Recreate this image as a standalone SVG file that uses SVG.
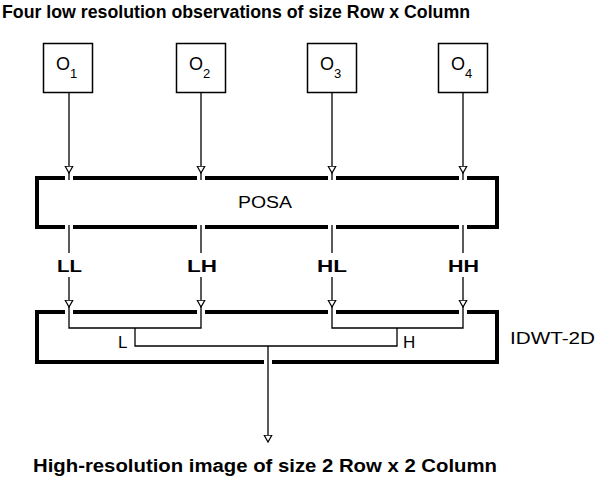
<svg xmlns="http://www.w3.org/2000/svg" width="598" height="478" viewBox="0 0 598 478">
<style>
.t{font-family:"Liberation Sans",Arial,sans-serif;fill:#000}
.b{font-weight:bold}
.box{fill:#fff;stroke:#000;stroke-width:1.5}
.big{fill:none;stroke:#000;stroke-width:4}
.ln{fill:none;stroke:#000;stroke-width:1.3}
.gap{fill:#fff;stroke:none}
</style>
<defs>
<marker id="ah" markerWidth="9" markerHeight="10" refX="7.5" refY="4.5" orient="auto" markerUnits="userSpaceOnUse" viewBox="0 0 9 9">
<path d="M0.6,0.6 L7.5,4.5 L0.6,8.4 Z" fill="#fff" stroke="#000" stroke-width="1.2"/>
</marker>
</defs>
<rect width="598" height="478" fill="#fff"/>
<text class="t b" x="2" y="18" font-size="19" textLength="468" lengthAdjust="spacingAndGlyphs">Four low resolution observations of size Row x Column</text>

<g id="o1"><rect class="box" x="43.5" y="43.5" width="49" height="49"/><text class="t" x="56" y="70" font-size="18">O<tspan font-size="13" dy="8">1</tspan></text></g>
<g id="o2"><rect class="box" x="176.5" y="43.5" width="49" height="49"/><text class="t" x="189" y="70" font-size="18">O<tspan font-size="13" dy="8">2</tspan></text></g>
<g id="o3"><rect class="box" x="307.5" y="43.5" width="49" height="49"/><text class="t" x="320" y="70" font-size="18">O<tspan font-size="13" dy="8">3</tspan></text></g>
<g id="o4"><rect class="box" x="438.5" y="43.5" width="49" height="49"/><text class="t" x="451" y="70" font-size="18">O<tspan font-size="13" dy="8">4</tspan></text></g>

<g id="posa"><rect class="big" x="37" y="178" width="460" height="49"/><text class="t" x="238" y="208" font-size="16" textLength="54" lengthAdjust="spacingAndGlyphs">POSA</text></g>
<g id="idwt"><rect class="big" x="37" y="312" width="460" height="50"/><text class="t" x="510" y="344" font-size="16" textLength="85" lengthAdjust="spacingAndGlyphs">IDWT-2D</text></g>

<g id="gaps">
<rect class="gap" x="65" y="174" width="8" height="8"/>
<rect class="gap" x="197" y="174" width="8" height="8"/>
<rect class="gap" x="328" y="174" width="8" height="8"/>
<rect class="gap" x="459" y="174" width="8" height="8"/>
<rect class="gap" x="65" y="223" width="8" height="8"/>
<rect class="gap" x="197" y="223" width="8" height="8"/>
<rect class="gap" x="328" y="223" width="8" height="8"/>
<rect class="gap" x="459" y="223" width="8" height="8"/>
<rect class="gap" x="65" y="308" width="8" height="8"/>
<rect class="gap" x="197" y="308" width="8" height="8"/>
<rect class="gap" x="328" y="308" width="8" height="8"/>
<rect class="gap" x="459" y="308" width="8" height="8"/>
<rect class="gap" x="264" y="358" width="8" height="8"/>
</g>

<g id="connectors">
<line class="ln" x1="69" y1="93" x2="69" y2="173" marker-end="url(#ah)"/>
<line class="ln" x1="69" y1="172" x2="69" y2="180"/>
<line class="ln" x1="201" y1="93" x2="201" y2="173" stroke-width="2" marker-end="url(#ah)"/>
<line class="ln" x1="201" y1="172" x2="201" y2="180"/>
<line class="ln" x1="332" y1="93" x2="332" y2="173" marker-end="url(#ah)"/>
<line class="ln" x1="332" y1="172" x2="332" y2="180"/>
<line class="ln" x1="463" y1="93" x2="463" y2="173" stroke-width="2" marker-end="url(#ah)"/>
<line class="ln" x1="463" y1="172" x2="463" y2="180"/>

<line class="ln" x1="69" y1="225" x2="69" y2="253"/>
<line class="ln" x1="201" y1="225" x2="201" y2="253"/>
<line class="ln" x1="332" y1="225" x2="332" y2="253"/>
<line class="ln" x1="463" y1="225" x2="463" y2="253"/>
<line class="ln" x1="69" y1="277" x2="69" y2="307" marker-end="url(#ah)"/>
<line class="ln" x1="201" y1="277" x2="201" y2="307" stroke-width="2" marker-end="url(#ah)"/>
<line class="ln" x1="332" y1="277" x2="332" y2="307" marker-end="url(#ah)"/>
<line class="ln" x1="463" y1="277" x2="463" y2="307" stroke-width="2" marker-end="url(#ah)"/>

<polyline class="ln" points="69,306 69,328 201,328 201,306"/>
<polyline class="ln" points="332,306 332,328 463,328 463,306"/>
<polyline class="ln" points="135,328 135,346 397,346 397,328"/>
<line class="ln" x1="268" y1="346" x2="268" y2="442" marker-end="url(#ah)"/>
</g>

<text class="t b" x="57" y="272" font-size="17" textLength="25" lengthAdjust="spacingAndGlyphs">LL</text>
<text class="t b" x="187" y="272" font-size="17" textLength="30" lengthAdjust="spacingAndGlyphs">LH</text>
<text class="t b" x="317" y="272" font-size="17" textLength="30" lengthAdjust="spacingAndGlyphs">HL</text>
<text class="t b" x="448" y="272" font-size="17" textLength="31" lengthAdjust="spacingAndGlyphs">HH</text>
<text class="t" x="118" y="348" font-size="17">L</text>
<text class="t" x="403" y="348" font-size="17">H</text>

<text class="t b" x="33" y="472" font-size="17.5" textLength="464" lengthAdjust="spacingAndGlyphs">High-resolution image of size 2 Row x 2 Column</text>
</svg>
